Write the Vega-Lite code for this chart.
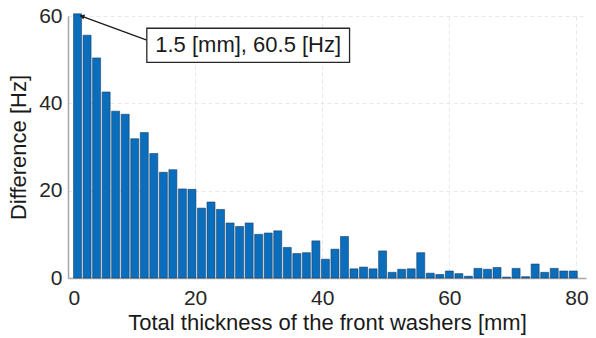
{
  "$schema": "https://vega.github.io/schema/vega-lite/v6.json",
  "width": 518,
  "height": 262,
  "autosize": "none",
  "padding": {"left": 68, "top": 16, "right": 10, "bottom": 60},
  "background": "white",
  "config": {
    "view": {"stroke": null},
    "font": "Liberation Sans",
    "axis": {
      "labelFont": "Liberation Sans",
      "titleFont": "Liberation Sans",
      "labelFontSize": 21,
      "titleFontSize": 22,
      "titleFontWeight": "normal",
      "labelColor": "#262626",
      "titleColor": "#1a1a1a",
      "domainColor": "#a6a6a6",
      "domainWidth": 1.5,
      "ticks": false,
      "gridColor": "#e8e8e8",
      "gridDash": [4, 3],
      "gridWidth": 1
    }
  },
  "datasets": {
    "bars": [
      {"thickness": 1.5, "diff": 60.5}, {"thickness": 3, "diff": 55.6}, {"thickness": 4.5, "diff": 50.4},
      {"thickness": 6, "diff": 42.6}, {"thickness": 7.5, "diff": 38.2}, {"thickness": 9, "diff": 37.5},
      {"thickness": 10.5, "diff": 31.9}, {"thickness": 12, "diff": 33.3}, {"thickness": 13.5, "diff": 28.5},
      {"thickness": 15, "diff": 24.2}, {"thickness": 16.5, "diff": 24.8}, {"thickness": 18, "diff": 20.4},
      {"thickness": 19.5, "diff": 20.3}, {"thickness": 21, "diff": 16.0}, {"thickness": 22.5, "diff": 17.4},
      {"thickness": 24, "diff": 15.7}, {"thickness": 25.5, "diff": 12.6}, {"thickness": 27, "diff": 11.8},
      {"thickness": 28.5, "diff": 12.6}, {"thickness": 30, "diff": 10.0}, {"thickness": 31.5, "diff": 10.3},
      {"thickness": 33, "diff": 10.8}, {"thickness": 34.5, "diff": 7.0}, {"thickness": 36, "diff": 5.6},
      {"thickness": 37.5, "diff": 5.8}, {"thickness": 39, "diff": 8.5}, {"thickness": 40.5, "diff": 4.3},
      {"thickness": 42, "diff": 6.6}, {"thickness": 43.5, "diff": 9.5}, {"thickness": 45, "diff": 2.1},
      {"thickness": 46.5, "diff": 2.5}, {"thickness": 48, "diff": 2.1}, {"thickness": 49.5, "diff": 6.2},
      {"thickness": 51, "diff": 1.3}, {"thickness": 52.5, "diff": 2.0}, {"thickness": 54, "diff": 2.1},
      {"thickness": 55.5, "diff": 5.8}, {"thickness": 57, "diff": 1.1}, {"thickness": 58.5, "diff": 0.8},
      {"thickness": 60, "diff": 1.6}, {"thickness": 61.5, "diff": 1.0}, {"thickness": 63, "diff": 0.4},
      {"thickness": 64.5, "diff": 2.2}, {"thickness": 66, "diff": 2.0}, {"thickness": 67.5, "diff": 2.4},
      {"thickness": 69, "diff": 0.2}, {"thickness": 70.5, "diff": 2.2}, {"thickness": 72, "diff": 0.3},
      {"thickness": 73.5, "diff": 3.2}, {"thickness": 75, "diff": 1.3}, {"thickness": 76.5, "diff": 2.2},
      {"thickness": 78, "diff": 1.6}, {"thickness": 79.5, "diff": 1.6}
    ],
    "arrow": [{"thickness": 12.4, "diff": 54.5, "thickness2": 1.9, "diff2": 60.1}],
    "tip": [{"thickness": 2.2, "diff": 59.95}],
    "box": [{"thickness": 12.4, "diff": 57.2, "thickness2": 44.3, "diff2": 49.4, "label": "1.5 [mm], 60.5 [Hz]", "cx": 28.35, "cy": 53.3}]
  },
  "layer": [
    {
      "data": {"name": "bars"},
      "mark": {"type": "bar", "width": 8, "fill": "#0a6ebd", "stroke": "#173f66", "strokeWidth": 0.6},
      "encoding": {
        "x": {
          "field": "thickness", "type": "quantitative",
          "scale": {"domain": [0, 81.5], "nice": false, "zero": true, "padding": 0},
          "axis": {"values": [0, 20, 40, 60, 80], "title": "Total thickness of the front washers [mm]", "labelPadding": 9, "titlePadding": 4, "grid": true}
        },
        "y": {
          "field": "diff", "type": "quantitative",
          "scale": {"domain": [0, 60], "nice": false},
          "axis": {"values": [0, 20, 40, 60], "title": "Difference [Hz]", "labelPadding": 6, "titlePadding": 8, "grid": true}
        }
      }
    },
    {
      "data": {"name": "arrow"},
      "mark": {"type": "rule", "color": "#1a1a1a", "strokeWidth": 1.3},
      "encoding": {
        "x": {"field": "thickness", "type": "quantitative"},
        "y": {"field": "diff", "type": "quantitative"},
        "x2": {"field": "thickness2"},
        "y2": {"field": "diff2"}
      }
    },
    {
      "data": {"name": "tip"},
      "mark": {"type": "point", "shape": "triangle-up", "filled": true, "color": "#1a1a1a", "size": 30, "angle": 290, "opacity": 1},
      "encoding": {
        "x": {"field": "thickness", "type": "quantitative"},
        "y": {"field": "diff", "type": "quantitative"}
      }
    },
    {
      "data": {"name": "box"},
      "mark": {"type": "rect", "fill": "white", "stroke": "#262626", "strokeWidth": 1.3},
      "encoding": {
        "x": {"field": "thickness", "type": "quantitative"},
        "y": {"field": "diff", "type": "quantitative"},
        "x2": {"field": "thickness2"},
        "y2": {"field": "diff2"}
      }
    },
    {
      "data": {"name": "box"},
      "mark": {"type": "text", "font": "Liberation Sans", "fontSize": 22, "color": "#1a1a1a", "align": "center", "baseline": "middle"},
      "encoding": {
        "x": {"field": "cx", "type": "quantitative"},
        "y": {"field": "cy", "type": "quantitative"},
        "text": {"field": "label"}
      }
    }
  ]
}
